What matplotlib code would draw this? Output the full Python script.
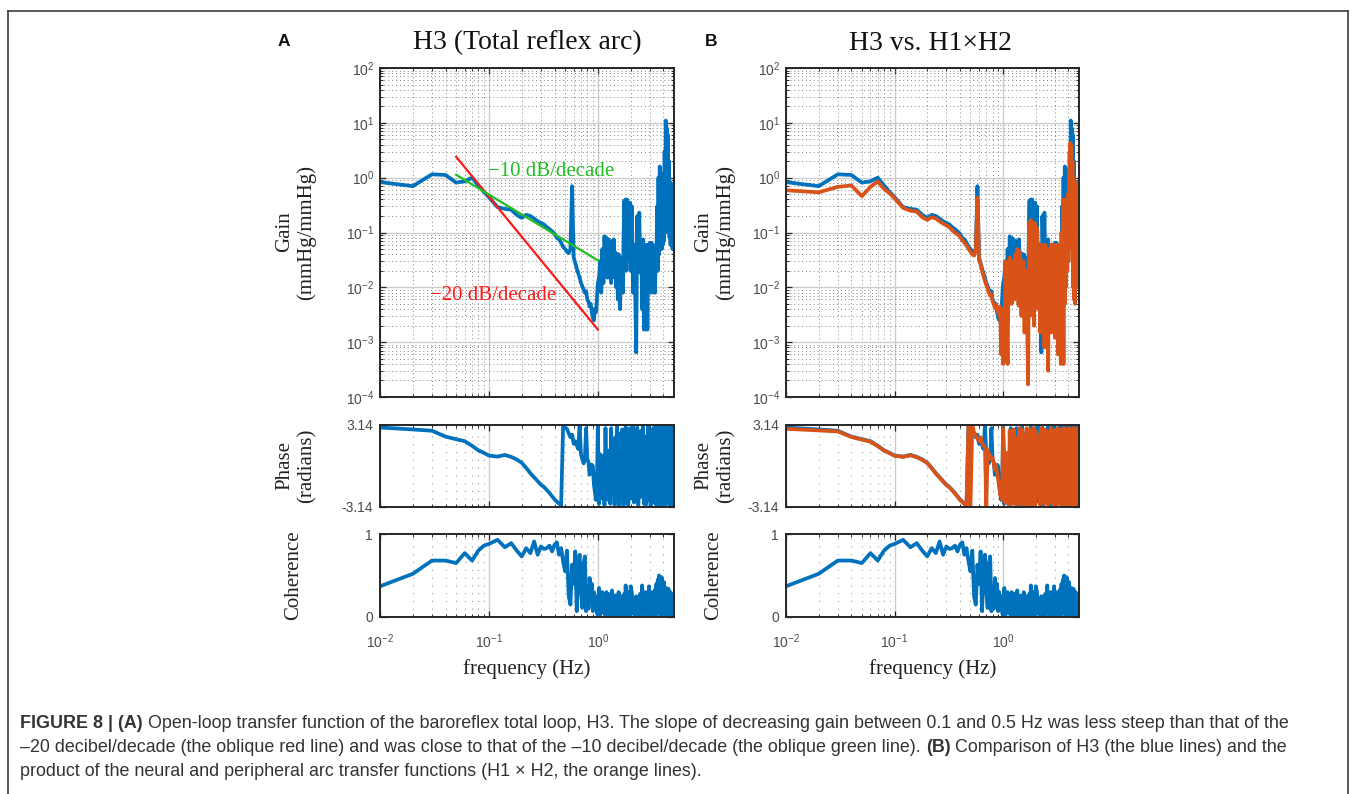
import numpy as np
import matplotlib
matplotlib.use("Agg")
import matplotlib.pyplot as plt
from matplotlib.ticker import LogLocator, NullFormatter
from matplotlib.lines import Line2D

plt.rcParams["font.family"] = ["Liberation Sans", "DejaVu Sans"]

# frequency bins (Hz), shared by every series below
freq = [
    0.01, 0.02, 0.03, 0.04, 0.05, 0.06, 0.07, 0.08, 0.09, 0.10,
    0.12, 0.14, 0.16, 0.18, 0.20, 0.22, 0.24, 0.26, 0.28, 0.30,
    0.32, 0.34, 0.36, 0.38, 0.40, 0.42, 0.44, 0.46, 0.48, 0.50,
    0.52, 0.54, 0.56, 0.58, 0.60, 0.62, 0.64, 0.66, 0.68, 0.70,
    0.72, 0.74, 0.76, 0.78, 0.80, 0.82, 0.84, 0.86, 0.88, 0.90,
    0.92, 0.94, 0.96, 0.98, 1.00,
    1.025, 1.05, 1.075, 1.10, 1.125, 1.15, 1.175, 1.20, 1.225, 1.25,
    1.275, 1.30, 1.325, 1.35, 1.375, 1.40, 1.425, 1.45, 1.475, 1.50,
    1.525, 1.55, 1.575, 1.60, 1.625, 1.65, 1.675, 1.70, 1.725, 1.75,
    1.775, 1.80, 1.825, 1.85, 1.875, 1.90, 1.925, 1.95, 1.975, 2.00,
    2.05, 2.10, 2.15, 2.20, 2.25, 2.30, 2.35, 2.40, 2.45, 2.50,
    2.55, 2.60, 2.65, 2.70, 2.75, 2.80, 2.85, 2.90, 2.95, 3.00,
    3.05, 3.10, 3.15, 3.20, 3.25, 3.30, 3.35, 3.40, 3.45, 3.50,
    3.55, 3.60, 3.65, 3.70, 3.75, 3.80, 3.85, 3.90, 3.95, 4.00,
    4.05, 4.10, 4.15, 4.20, 4.25, 4.30, 4.35, 4.40, 4.45, 4.50,
    4.55, 4.60, 4.65, 4.70, 4.75, 4.80, 4.85, 4.90, 4.95, 5.00,
]

# H3 gain (mmHg/mmHg)
gain_h3 = [
    0.83, 0.70, 1.15, 1.12, 0.81, 0.86, 1.00, 0.72, 0.55, 0.44,
    0.29, 0.27, 0.26, 0.21, 0.185, 0.21, 0.20, 0.18, 0.16, 0.15,
    0.14, 0.125, 0.115, 0.105, 0.095, 0.08, 0.075, 0.065, 0.055, 0.05,
    0.045, 0.042, 0.05, 0.70, 0.035, 0.028, 0.022, 0.018, 0.015, 0.012,
    0.0105, 0.009, 0.008, 0.0085, 0.006, 0.0055, 0.0045, 0.005, 0.0035, 0.0028,
    0.0025, 0.004, 0.0035, 0.006, 0.012,
    0.015, 0.03, 0.008, 0.05, 0.012, 0.085, 0.025, 0.08, 0.015, 0.075,
    0.02, 0.06, 0.012, 0.07, 0.03, 0.075, 0.015, 0.043, 0.01, 0.04,
    0.006, 0.04, 0.015, 0.004, 0.03, 0.01, 0.035, 0.008, 0.1, 0.38,
    0.05, 0.40, 0.02, 0.40, 0.1, 0.05, 0.35, 0.03, 0.35, 0.02,
    0.30, 0.008, 0.06, 0.01, 0.00065, 0.2, 0.02, 0.23, 0.0185, 0.07,
    0.004, 0.075, 0.0017, 0.05, 0.0017, 0.06, 0.0017, 0.06, 0.01, 0.065,
    0.008, 0.065, 0.01, 0.06, 0.008, 0.05, 0.008, 0.05, 0.03, 0.3,
    0.02, 1.0, 0.04, 1.6, 0.05, 0.4, 0.05, 0.6, 0.06, 1.2,
    0.07, 3.0, 0.1, 11.0, 0.3, 8.0, 0.2, 6.0, 0.1, 2.0,
    0.08, 0.5, 0.06, 0.8, 0.06, 0.5, 0.05, 0.7, 0.05, 0.6,
]

# H1 x H2 gain (mmHg/mmHg)
gain_h12 = [
    0.59, 0.54, 0.68, 0.72, 0.46, 0.68, 0.85, 0.62, 0.52, 0.42,
    0.28, 0.25, 0.24, 0.19, 0.17, 0.19, 0.18, 0.16, 0.145, 0.135,
    0.125, 0.11, 0.10, 0.092, 0.085, 0.072, 0.065, 0.058, 0.05, 0.045,
    0.04, 0.038, 0.045, 0.43, 0.032, 0.026, 0.02, 0.016, 0.013, 0.011,
    0.0095, 0.008, 0.007, 0.0075, 0.0055, 0.005, 0.0042, 0.0048, 0.004, 0.0035,
    0.003, 0.0045, 0.0006, 0.004, 0.0004,
    0.0005, 0.03, 0.004, 0.0004, 0.02, 0.035, 0.008, 0.005, 0.03, 0.02,
    0.006, 0.04, 0.01, 0.05, 0.005, 0.0046, 0.045, 0.02, 0.003, 0.03,
    0.005, 0.03, 0.0015, 0.02, 0.004, 0.02, 0.001, 0.00017, 0.05, 0.15,
    0.003, 0.17, 0.02, 0.15, 0.01, 0.12, 0.002, 0.15, 0.005, 0.1,
    0.12, 0.004, 0.05, 0.0015, 0.06, 0.003, 0.05, 0.0008, 0.06, 0.0015,
    0.04, 0.0003, 0.05, 0.002, 0.06, 0.0015, 0.05, 0.003, 0.06, 0.0012,
    0.05, 0.002, 0.06, 0.0006, 0.04, 0.0015, 0.05, 0.0004, 0.1, 0.002,
    0.4, 0.0004, 0.3, 0.005, 0.4, 0.01, 0.35, 0.02, 0.5, 0.03,
    1.5, 0.05, 4.3, 0.1, 4.0, 0.05, 2.0, 0.01, 1.0, 0.006,
    0.5, 0.005, 0.3, 0.01, 0.6, 0.02, 0.8, 0.01, 0.7, 0.5,
]

# H3 phase (radians)
phase_h3 = [
    2.95, 2.80, 2.70, 2.25, 2.05, 1.90, 1.55, 1.20, 1.00, 0.80,
    0.72, 0.85, 0.70, 0.50, 0.25, -0.15, -0.55, -0.87, -1.17, -1.43,
    -1.61, -1.84, -2.07, -2.32, -2.55, -2.73, -2.88, -3.02, 3.10, 2.95,
    2.85, 2.50, 2.20, 2.40, 1.70, 1.90, 1.60, 1.30, 3.10, 0.90,
    0.50, 0.20, 0.60, 2.90, 0.50, 0.30, -0.67, -0.20, 0.10, 0.00,
    -1.43, -2.00, -2.60, -1.50, 3.10,
    -2.9, 0.9, -1.5, -2.5, 0.8, -3.0, 2.9, -1.8, 0.4, -2.6,
    1.2, -2.9, 2.9, -0.6, -2.2, 0.5, -3.0, 2.2, -1.5, 3.0,
    -2.7, 1.0, -3.05, 2.5, -0.3, -2.4, 2.8, -1.0, -3.0, 1.6,
    -2.1, 3.0, -2.8, 0.2, 2.6, -3.0, 1.4, -1.9, 2.9, -2.5,
    -0.8, 3.1, -2.8, 1.8, -2.0, 2.95, -3.0, 0.3, -2.4, 2.7,
    -1.2, 3.05, -2.9, 1.4, -3.0, 2.3, -1.9, 3.1, -2.6, 0.9,
    -3.05, 2.8, -1.0, 2.0, -2.8, 3.0, -2.2, 1.6, -3.0, 2.6,
    -0.5, 3.1, -2.7, 1.2, -3.05, 2.9, -1.6, 2.2, -2.9, 3.0,
    -2.3, 0.7, -3.0, 2.7, -1.3, 3.1, -2.8, 1.9, -2.5, 3.0,
    -3.0, 1.1, -2.0, 2.8, -2.9, 3.1, -1.7, 2.4, -3.0, 2.9,
]

# H1 x H2 phase (radians)
phase_h12 = [
    2.85, 2.72, 2.65, 2.22, 2.02, 1.86, 1.52, 1.18, 0.98, 0.78,
    0.70, 0.82, 0.67, 0.47, 0.22, -0.18, -0.58, -0.90, -1.20, -1.46,
    -1.64, -1.87, -2.10, -2.35, -2.58, -2.76, -2.91, -3.05, 3.10, -3.05,
    3.10, 2.55, 2.35, 2.10, 1.90, 2.20, 1.75, 1.55, 1.40, -3.10,
    1.20, 0.90, 0.85, 0.50, 0.60, 0.20, -0.30, 0.10, -0.60, -1.00,
    -1.60, -2.20, -1.20, -2.60, 2.90,
    0.5, -2.8, 1.0, -1.6, -3.0, 2.7, -2.0, 1.4, -2.9, 2.8,
    -1.5, 2.2, -3.0, 0.6, -2.5, 2.9, -2.9, 1.7, -1.2, 2.8,
    -3.0, 2.4, -2.3, 1.1, -3.0, 2.9, -1.8, 2.0, -2.9, 2.8,
    -2.1, 0.9, -3.0, 2.6, -1.4, 2.9, -2.8, 1.5, -3.0, 2.7,
    2.4, -2.3, 1.1, -3.0, 2.9, -1.8, 2.0, -2.9, 2.8, -2.1,
    0.9, -3.0, 2.6, -1.4, 2.9, -2.8, 1.5, -3.0, 2.7, -2.4,
    2.1, -3.0, 2.9, -1.6, 1.2, -2.9, 2.8, -2.2, 2.5, -3.0,
    1.8, -2.6, 2.9, -1.9, 2.3, -3.0, 2.8, -2.4, 1.3, -2.9,
    2.9, -1.8, 2.4, -3.0, 2.7, -2.5, 1.6, -2.9, 2.9, -2.0,
    2.2, -3.0, 2.8, -1.5, 2.5, -2.9, 2.9, -2.3, 2.0, -2.8,
]

# coherence of H3
coherence = [
    0.37, 0.52, 0.68, 0.68, 0.65, 0.77, 0.68, 0.80, 0.86, 0.88,
    0.93, 0.84, 0.89, 0.80, 0.73, 0.83, 0.77, 0.91, 0.75, 0.85,
    0.82, 0.83, 0.86, 0.79, 0.87, 0.90, 0.75, 0.83, 0.67, 0.55,
    0.80, 0.25, 0.15, 0.63, 0.40, 0.79, 0.07, 0.60, 0.75, 0.30,
    0.11, 0.65, 0.73, 0.07, 0.35, 0.10, 0.47, 0.20, 0.40, 0.07,
    0.30, 0.10, 0.25, 0.05, 0.02,
    0.35, 0.02, 0.22, 0.30, 0.05, 0.25, 0.01, 0.30, 0.04, 0.28,
    0.02, 0.20, 0.06, 0.32, 0.01, 0.22, 0.03, 0.26, 0.05, 0.18,
    0.01, 0.30, 0.04, 0.20, 0.02, 0.25, 0.06, 0.15, 0.01, 0.28,
    0.03, 0.38, 0.05, 0.22, 0.01, 0.30, 0.04, 0.18, 0.02, 0.37,
    0.30, 0.04, 0.20, 0.02, 0.25, 0.06, 0.15, 0.01, 0.28, 0.03,
    0.38, 0.05, 0.22, 0.01, 0.30, 0.04, 0.18, 0.02, 0.37, 0.05,
    0.25, 0.01, 0.30, 0.06, 0.20, 0.02, 0.33, 0.04, 0.40, 0.03,
    0.45, 0.08, 0.50, 0.05, 0.42, 0.02, 0.48, 0.06, 0.38, 0.03,
    0.42, 0.05, 0.30, 0.01, 0.35, 0.07, 0.25, 0.02, 0.34, 0.05,
    0.28, 0.01, 0.30, 0.04, 0.20, 0.02, 0.26, 0.05, 0.18, 0.03,
]

# reference slopes drawn on panel A
red_f, red_g = [0.05, 1.0], [2.4, 0.0017]
green_f, green_g = [0.05, 1.0], [1.13, 0.031]

caption_lines = [
    [("FIGURE 8 | (A)", True),
     (" Open-loop transfer function of the baroreflex total loop, H3. The slope of decreasing gain "
      "between 0.1 and 0.5 Hz was less steep than that of the", False)],
    [("\u201320 decibel/decade (the oblique red line) and was close to that of the \u201310 "
      "decibel/decade (the oblique green line). ", False),
     ("(B)", True),
     (" Comparison of H3 (the blue lines) and the", False)],
    [("product of the neural and peripheral arc transfer functions (H1 \u00d7 H2, the orange lines).", False)],
]

BLUE = "#0072BD"
ORANGE = "#D95319"
SERIF = ["Liberation Serif", "DejaVu Serif"]

W, H = 1355, 794
fig = plt.figure(figsize=(W / 100, H / 100), dpi=100)


def px_axes(left, top, right, bottom):
    return fig.add_axes([left / W, 1 - bottom / H, (right - left) / W, (bottom - top) / H])


def style(ax, gain=False, dot_gap=3):
    ax.set_xscale("log")
    ax.set_xlim(0.01, 5)
    ax.xaxis.set_major_locator(LogLocator(base=10, numticks=10))
    ax.xaxis.set_minor_locator(LogLocator(base=10, subs=np.arange(2, 10), numticks=10))
    ax.xaxis.set_minor_formatter(NullFormatter())
    which_axis = "both" if gain else "x"
    ax.grid(True, which="major", axis=which_axis, color="#cdcdcd", lw=1.0, ls="-")
    ax.grid(True, which="minor", axis=which_axis, color="#858585", lw=0.7,
            ls=(0, (1, dot_gap)))
    ax.set_axisbelow(True)
    ax.tick_params(which="both", direction="in", top=True, right=True,
                   colors="#262626", labelcolor="#4a4a4a", labelsize=10)
    ax.tick_params(which="major", length=4, width=0.9)
    ax.tick_params(which="minor", length=2, width=0.7)
    for sp in ax.spines.values():
        sp.set_color("#262626")
        sp.set_linewidth(1.4)


def gain_axes(ax):
    style(ax, gain=True)
    ax.set_yscale("log")
    ax.set_ylim(1e-4, 1e2)
    ax.yaxis.set_major_locator(LogLocator(base=10, numticks=10))
    ax.yaxis.set_minor_locator(LogLocator(base=10, subs=np.arange(2, 10), numticks=10))
    ax.yaxis.set_minor_formatter(NullFormatter())
    ax.tick_params(axis="y", pad=4)
    ax.tick_params(labelbottom=False)


def phase_axes(ax):
    style(ax, dot_gap=7)
    ax.set_ylim(-3.14, 3.14)
    ax.set_yticks([-3.14, 3.14])
    ax.set_yticklabels(["-3.14", "3.14"], fontsize=10)
    ax.tick_params(axis="y", pad=5)
    ax.tick_params(labelbottom=False)


def coh_axes(ax):
    style(ax, dot_gap=7)
    ax.set_ylim(0, 1)
    ax.set_yticks([0, 1])
    ax.set_yticklabels(["0", "1"], fontsize=10)
    ax.tick_params(axis="y", pad=5)
    ax.tick_params(axis="x", pad=11)


lw = 2.7
panels = [(380, 674, 527, 284, 296, 294, "H3 (Total reflex arc)", "A"),
          (786, 1079, 930, 711, 715, 714, "H3 vs. H1\u00d7H2", "B")]

for left, right, title_x, letter_x, lab_x, coh_x, title, letter in panels:
    ax_g = px_axes(left, 68, right, 397)
    ax_p = px_axes(left, 425, right, 507)
    ax_c = px_axes(left, 534, right, 617)
    gain_axes(ax_g)
    phase_axes(ax_p)
    coh_axes(ax_c)

    ax_g.plot(freq, gain_h3, color=BLUE, lw=lw)
    ax_p.plot(freq, phase_h3, color=BLUE, lw=lw)
    ax_c.plot(freq, coherence, color=BLUE, lw=lw)
    if letter == "B":
        ax_g.plot(freq, gain_h12, color=ORANGE, lw=lw)
        ax_p.plot(freq, phase_h12, color=ORANGE, lw=lw)
    else:
        ax_g.plot(red_f, red_g, color="#ff1a1a", lw=1.6)
        ax_g.plot(green_f, green_g, color="#1fbf1f", lw=1.6)
        ax_g.text(0.098, 1.28, "\u221210 dB/decade", color="#1fbf1f", fontsize=15,
                  family=SERIF, ha="left", va="center")
        ax_g.text(0.0287, 0.0072, "\u221220 dB/decade", color="#ff1a1a", fontsize=15,
                  family=SERIF, ha="left", va="center")

    fig.text(title_x / W, 1 - 43 / H, title, fontsize=20, family=SERIF,
             ha="center", va="center", color="#111111")
    fig.text(letter_x / W, 1 - 41 / H, letter, fontsize=12.5, fontweight="bold",
             ha="center", va="center", color="#111111")
    fig.text(lab_x / W, 1 - 232 / H, "Gain\n(mmHg/mmHg)", fontsize=15, family=SERIF,
             rotation=90, ha="center", va="center", linespacing=1.15, color="#222222")
    fig.text(lab_x / W, 1 - 466 / H, "Phase\n(radians)", fontsize=15, family=SERIF,
             rotation=90, ha="center", va="center", linespacing=1.15, color="#222222")
    fig.text(coh_x / W, 1 - 575 / H, "Coherence", fontsize=15, family=SERIF,
             rotation=90, ha="center", va="center", color="#222222")
    fig.text((left + right) / 2 / W, 1 - 669 / H, "frequency (Hz)", fontsize=15,
             family=SERIF, ha="center", va="center", color="#222222")

# figure frame
frame = dict(transform=fig.transFigure, color="#3c3c3c", lw=1.2)
x0, x1, y0 = 8 / W, 1348 / W, 1 - 11 / H
fig.add_artist(Line2D([x0, x1], [y0, y0], **frame))
fig.add_artist(Line2D([x0, x0], [y0, 0], **frame))
fig.add_artist(Line2D([x1, x1], [y0, 0], **frame))

# caption with bold pieces
renderer = fig.canvas.get_renderer()
for row, y in zip(caption_lines, [724, 748, 771]):
    x = 20
    for txt, bold in row:
        t = fig.text(x / W, 1 - y / H, txt, fontsize=12.9, color="#333333",
                     fontweight="bold" if bold else "normal", ha="left", va="center")
        x += t.get_window_extent(renderer).width

fig.savefig("out.png", dpi=100)
